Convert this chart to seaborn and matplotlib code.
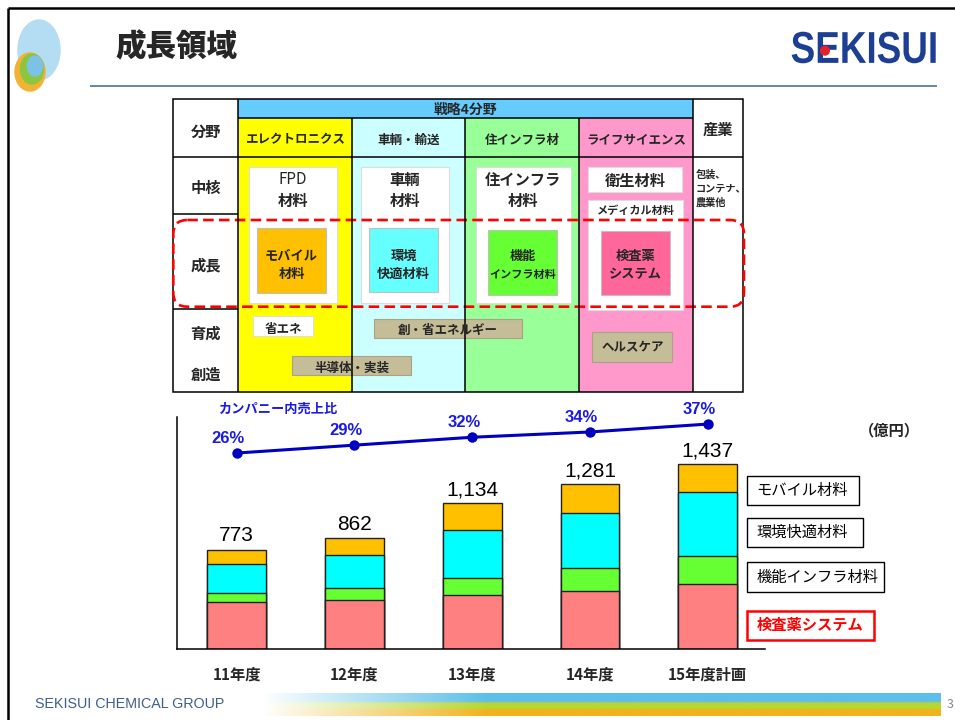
import numpy as np
import matplotlib
matplotlib.use('Agg')
import matplotlib.pyplot as plt
import seaborn as sns
from matplotlib.patches import Rectangle, FancyBboxPatch, Ellipse, Circle, PathPatch
from matplotlib.textpath import TextPath
from matplotlib.font_manager import FontProperties
from matplotlib.transforms import Affine2D

# --- データ (億円) ---
years = ['11年度', '12年度', '13年度', '14年度', '15年度計画']
kensa = [362, 382, 420, 451, 503]      # 検査薬システム
kinou = [72, 91, 132, 177, 218]        # 機能インフラ材料
kankyo = [227, 255, 373, 433, 500]     # 環境快適材料
mobile = [112, 134, 209, 220, 216]     # モバイル材料
totals = [773, 862, 1134, 1281, 1437]
ratio = [26, 29, 32, 34, 37]           # カンパニー内売上比 (%)

series_names = ['モバイル材料', '環境快適材料', '機能インフラ材料', '検査薬システム']
series_colors = ['#FFC000', '#00FFFF', '#66FF33', '#FF8080']

# --- 表のテキスト ---
row_labels = ['分野', '中核', '成長', '育成', '創造']
fields = ['エレクトロニクス', '車輌・輸送', '住インフラ材', 'ライフサイエンス']
field_colors = ['#FFFF00', '#CCFFFF', '#99FF99', '#FF99CC']
core_items = [('FPD', '材料'), ('車輌', '材料'), ('住インフラ', '材料')]
growth_items = [('モバイル', '材料'), ('環境', '快適材料'), ('機能', 'インフラ材料'), ('検査薬', 'システム')]
growth_colors = ['#FFC000', '#66FFFF', '#66FF33', '#FF6699']

sns.set_style('white')
plt.rcParams['font.family'] = ['Noto Sans CJK JP', 'DejaVu Sans']

W, H = 955, 720
fig = plt.figure(figsize=(W / 100, H / 100), dpi=100, facecolor='white')

# 背景用の軸 (ピクセル座標, y は下向き)
bg = fig.add_axes([0, 0, 1, 1])
bg.set_xlim(0, W)
bg.set_ylim(H, 0)
bg.axis('off')


def rect(x0, y0, x1, y1, fc='white', ec='black', lw=1.0, **kw):
    bg.add_patch(Rectangle((x0, y0), x1 - x0, y1 - y0, facecolor=fc, edgecolor=ec, linewidth=lw, **kw))


def line(xs, ys, color='black', lw=1.1):
    bg.plot(xs, ys, color=color, lw=lw, solid_capstyle='butt')


def txt(x, y, s, size=10, weight='bold', **kw):
    kw.setdefault('ha', 'center')
    bg.text(x, y, s, fontsize=size, fontweight=weight, va='center', **kw)


# --- ヘッダー ---
line([8, 955], [8, 8], lw=1.8)
line([8, 8], [8, 720], lw=1.8)
bg.add_patch(Ellipse((39, 50), 42, 60, color='#b4dcf2'))
bg.add_patch(Ellipse((30, 72), 30, 38, color='#f2b233'))
bg.add_patch(Ellipse((32, 69), 23, 30, color='#8cc63f'))
bg.add_patch(Ellipse((35, 66), 15, 20, color='#7cc2e8'))
txt(115, 47, '成長領域', size=22, weight='heavy', ha='left')
line([90, 937], [86, 86], color='#5d8aa8', lw=1.4)

tp = TextPath((0, 0), 'SEKISUI', size=1, prop=FontProperties(family='Liberation Sans', weight='bold'))
ext = tp.get_extents()
tr = Affine2D().translate(-ext.x0, -ext.y0).scale(144 / ext.width, -31.6 / ext.height).translate(791.7, 63.3)
bg.add_patch(PathPatch(tr.transform_path(tp), facecolor='#1c3f94', edgecolor='none'))
bg.add_patch(Circle((825, 50.7), 4.3, color='#e8202a'))

# --- 表 ---
xs = [173.3, 238.3, 352.3, 465, 579.3, 692.7, 743.3]
y_top, y_band, y_r1, y_r2, y_r3, y_bot = 99.3, 118.3, 157.3, 214, 309.3, 391.7

for i, c in enumerate(field_colors):
    rect(xs[i + 1], y_band, xs[i + 2], y_bot, fc=c, ec='none', lw=0)
rect(xs[1], y_top, xs[5], y_band, fc='#66CCFF', ec='none', lw=0)
txt((xs[1] + xs[5]) / 2, 110, '戦略4分野', size=10)

for i, f in enumerate(fields):
    txt((xs[i + 1] + xs[i + 2]) / 2, 140, f, size=9)
txt((xs[5] + xs[6]) / 2, 130, '産業', size=11)

label_y = [131.7, 188.3, 265, 334, 375]
for lab, y in zip(row_labels, label_y):
    txt((xs[0] + xs[1]) / 2, y, lab, size=11)

# 中核の白枠
core_boxes = [(249.3, 336.7), (360.7, 449.3), (476, 570.7)]
for (x0, x1), (a, b) in zip(core_boxes, core_items):
    rect(x0, 166.7, x1, 303.3, fc='white', ec='#dddddd', lw=0.8)
    txt((x0 + x1) / 2, 180, a, size=11, weight='bold' if a != 'FPD' else 'normal')
    txt((x0 + x1) / 2, 201, b, size=11)
rect(588.3, 166.7, 681.7, 191.7, fc='white', ec='#dddddd', lw=0.8)
txt(635, 181, '衛生材料', size=11)
rect(588.3, 200, 682.7, 310, fc='white', ec='#dddddd', lw=0.8)
txt(635.5, 210, 'メディカル材料', size=8)

# 成長ボックス
growth_boxes = [(257.3, 228.3, 325.7, 293.3), (369, 228.3, 438.3, 292.3),
                (488.3, 230, 556.7, 295), (601, 231, 670, 295)]
growth_sizes = [9.5, 9.5, 8, 9.5]
for (x0, y0, x1, y1), (a, b), c, s in zip(growth_boxes, growth_items, growth_colors, growth_sizes):
    rect(x0, y0, x1, y1, fc=c, ec='#c0c0c0', lw=0.8)
    cx = (x0 + x1) / 2
    txt(cx, 256, a, size=9.5)
    txt(cx, 274, b, size=s)

# 育成・創造
rect(253.3, 316, 312.7, 335.7, fc='white', ec='#dddddd', lw=0.8)
txt(283, 329, '省エネ', size=9)
tan, tan_ec = '#C4BD97', '#a8a286'
rect(374, 319.3, 521.7, 337.7, fc=tan, ec=tan_ec, lw=0.8)
txt(447.8, 330.5, '創・省エネルギー', size=9)
rect(292.3, 356, 410.7, 375, fc=tan, ec=tan_ec, lw=0.8)
txt(351.5, 368, '半導体・実装', size=9)
rect(592.3, 331.7, 672.3, 362.3, fc=tan, ec=tan_ec, lw=0.8)
txt(632.3, 348, 'ヘルスケア', size=9)

for s, y in zip(['包装、', 'コンテナ、', '農業他'], [175, 188.5, 202.5]):
    txt(695.5, y, s, size=7.3, ha='left')

# 罫線
rect(xs[0], y_top, xs[6], y_bot, fc='none', ec='black', lw=1.1)
line([xs[1], xs[1]], [y_top, y_bot])
line([xs[5], xs[5]], [y_top, y_bot])
for x in xs[2:5]:
    line([x, x], [y_band, y_bot])
line([xs[1], xs[5]], [y_band, y_band])
line([xs[0], xs[6]], [y_r1, y_r1])
line([xs[0], xs[1]], [y_r2, y_r2])
line([xs[0], xs[1]], [y_r3, y_r3])

bg.add_patch(FancyBboxPatch((173.3, 220), 744 - 173.3, 306.7 - 220,
                            boxstyle='round,pad=0,rounding_size=14', facecolor='none',
                            edgecolor='#FF0000', lw=1.9, linestyle=(0, (4, 2))))

# --- 積み上げ棒グラフ ---
ax = fig.add_axes([177 / W, 1 - 649 / H, (765 - 177) / W, (649 - 416.7) / H])
ax.patch.set_alpha(0)

c1 = np.array(kensa)
c2 = c1 + np.array(kinou)
c3 = c2 + np.array(kankyo)
c4 = c3 + np.array(mobile)
for vals, col in zip([c4, c3, c2, c1], series_colors):
    sns.barplot(x=years, y=vals, color=col, saturation=1, width=0.5,
                edgecolor='#222222', linewidth=1.0, ax=ax)

ax.bar_label(ax.containers[0], labels=[f'{v:,}' for v in totals], padding=3,
             fontsize=15, family='Liberation Sans', color='black')

ax.set_ylim(0, 1807)
ax.set_yticks([])
ax.set_xlabel('')
ax.set_ylabel('')
ax.tick_params(axis='x', length=0, pad=12.5, labelsize=11)
for lab in ax.get_xticklabels():
    lab.set_fontweight('bold')
sns.despine(ax=ax)
for sp in ['left', 'bottom']:
    ax.spines[sp].set_color('black')
    ax.spines[sp].set_linewidth(1.1)

# カンパニー内売上比
ax2 = ax.twinx()
pos = np.arange(len(years))
sns.lineplot(x=pos, y=ratio, ax=ax2, color='#0000C0', lw=2.2, marker='o',
             markersize=7.5, markeredgewidth=0)
ax2.set_ylim(-48.4, 39.8)
ax2.set_axis_off()
for p, r in zip(pos, ratio):
    ax2.annotate(f'{r}%', (p, r), xytext=(-6, 10.5), textcoords='offset points',
                 ha='center', va='center', fontsize=12, fontweight='bold',
                 color='#1a1ae6', family='Liberation Sans', annotation_clip=False)
ax.set_xlim(-0.507, 4.486)

txt(219, 409, 'カンパニー内売上比', size=9.5, ha='left', color='#1a1ae6')
txt(889, 430.7, '（億円）', size=11)

# 凡例ボックス
legend_boxes = [(747, 475.7, 859, 505), (747, 518, 863, 547),
                (747, 562, 884, 592), (747, 610.7, 874, 640)]
for (x0, y0, x1, y1), name in zip(legend_boxes, series_names):
    red = name == '検査薬システム'
    rect(x0, y0, x1, y1, fc='white', ec='#FF0000' if red else 'black', lw=1.8 if red else 1.0)
    txt(756.7, (y0 + y1) / 2, name, size=11, weight='bold' if red else 'normal',
        ha='left', color='#FF0000' if red else 'black')

# --- フッター ---
band_rgb = ['#5bbfea'] * 4 + ['#b9d531'] * 3 + ['#f2b21c'] * 3
ramp = np.clip(np.linspace(-0.05, 3.0, 300), 0, 1)
img = np.zeros((len(band_rgb), 300, 4))
for i, c in enumerate(band_rgb):
    img[i, :, :3] = matplotlib.colors.to_rgb(c)
    img[i, :, 3] = ramp
bg.imshow(img, extent=(250, 940, 716, 693), aspect='auto', interpolation='bilinear')
bg.set_xlim(0, W)
bg.set_ylim(H, 0)
bg.text(35, 703.5, 'SEKISUI CHEMICAL GROUP', fontsize=10.3, family='Liberation Sans',
        color='#3d5f8a', ha='left', va='center')
bg.text(947, 704, '3', fontsize=9, color='#888888', ha='left', va='center')

fig.savefig('out.png', dpi=100, facecolor='white')
